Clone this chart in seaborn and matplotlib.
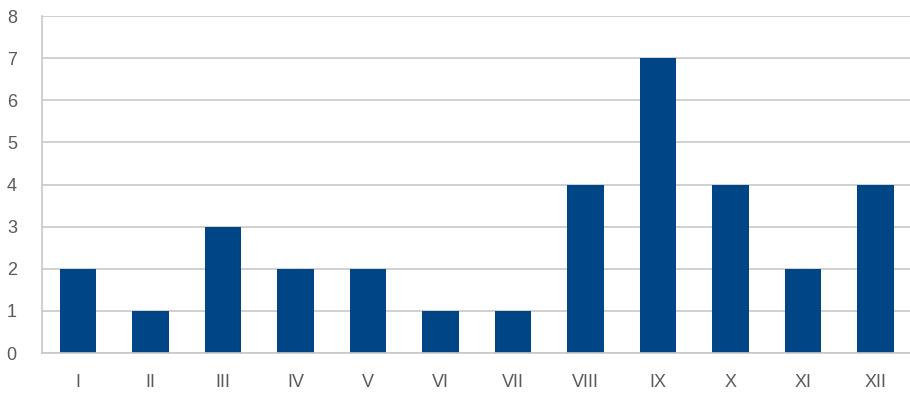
import matplotlib
matplotlib.use("Agg")
import matplotlib.pyplot as plt
import seaborn as sns
import numpy as np
from matplotlib.ticker import FixedLocator

mesi = ["I", "II", "III", "IV", "V", "VI", "VII", "VIII", "IX", "X", "XI", "XII"]
valori = [2, 1, 3, 2, 2, 1, 1, 4, 7, 4, 2, 4]

sns.set_style("white")
plt.rcParams["font.family"] = ["Liberation Sans", "DejaVu Sans"]

fig = plt.figure(figsize=(9.1, 3.94), dpi=100)
ax = fig.add_axes([0.046, 0.104, 0.956, 0.855])

sns.barplot(x=mesi, y=valori, color="#004586", width=0.5, saturation=1,
            linewidth=0, ax=ax)

ax.set_ylim(0, 8)
ax.set_xlim(-0.5, len(mesi) - 0.5)
ax.set_yticks(range(0, 9))
ax.yaxis.grid(True, color="#c8c8c8", linewidth=1.2)
ax.set_axisbelow(True)
ax.set_xlabel("")
ax.set_ylabel("")

for s in ["top", "right"]:
    ax.spines[s].set_visible(False)
for s in ["left", "bottom"]:
    ax.spines[s].set_color("#c8c8c8")
    ax.spines[s].set_linewidth(1.2)

ax.tick_params(axis="y", length=8, color="#c8c8c8", labelsize=13, labelcolor="#5a5a5a", pad=10)
ax.tick_params(axis="x", which="major", length=0, labelsize=13, labelcolor="#5a5a5a", pad=15)
ax.xaxis.set_minor_locator(FixedLocator(np.arange(-0.5, len(mesi), 1.0)))
ax.tick_params(axis="x", which="minor", length=4, color="#c8c8c8", width=1.2)

fig.savefig("out.png", dpi=100)
